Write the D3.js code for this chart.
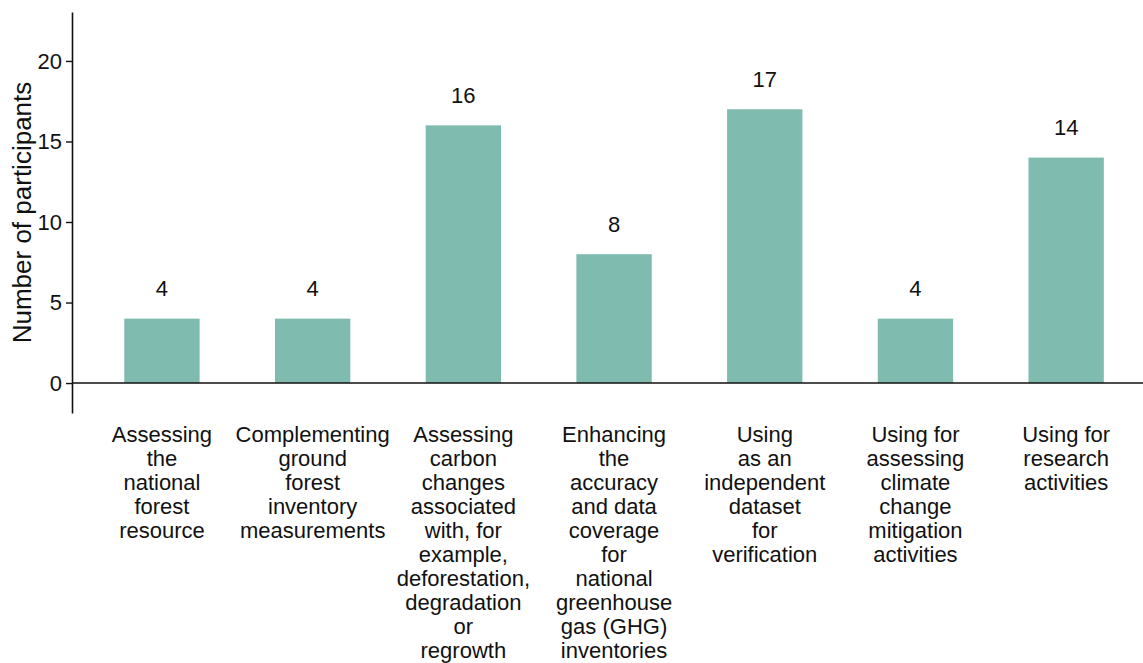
<!DOCTYPE html>
<html>
<head>
<meta charset="utf-8">
<script src="https://cdn.jsdelivr.net/npm/d3@7"></script>
<style>
  html, body { margin: 0; padding: 0; background: #fff; }
  svg { display: block; font-family: "Liberation Sans", Arial, sans-serif; }
</style>
</head>
<body>
<svg id="chart" width="1143" height="663"></svg>
<script>
const categories = [
  "Assessing\nthe\nnational\nforest\nresource",
  "Complementing\nground\nforest\ninventory\nmeasurements",
  "Assessing\ncarbon\nchanges\nassociated\nwith, for\nexample,\ndeforestation,\ndegradation\nor\nregrowth",
  "Enhancing\nthe\naccuracy\nand data\ncoverage\nfor\nnational\ngreenhouse\ngas (GHG)\ninventories",
  "Using\nas an\nindependent\ndataset\nfor\nverification",
  "Using for\nassessing\nclimate\nchange\nmitigation\nactivities",
  "Using for\nresearch\nactivities"
];
const values = [4, 4, 16, 8, 17, 4, 14];
const yTicks = [0, 5, 10, 15, 20];
const yTitle = "Number of participants";

const svg = d3.select("#chart");
const barColor = "#7fbcaf";
const axisX = 72;

const x = d3.scaleBand()
  .domain(d3.range(categories.length))
  .range([86.6, 1141.5])
  .paddingInner(0.5)
  .paddingOuter(0.25);

const y = d3.scaleLinear()
  .domain([-1.86, 23.04])
  .range([413, 12]);

// bars
svg.append("g").selectAll("rect")
  .data(values)
  .join("rect")
  .attr("x", (d, i) => x(i))
  .attr("width", x.bandwidth())
  .attr("y", d => y(d))
  .attr("height", d => y(0) - y(d))
  .attr("fill", barColor);

// value labels
svg.append("g").selectAll("text")
  .data(values)
  .join("text")
  .attr("x", (d, i) => x(i) + x.bandwidth() / 2)
  .attr("y", d => y(d) - 22.5)
  .attr("text-anchor", "middle")
  .attr("font-size", "22px")
  .attr("fill", "#111")
  .text(d => d);

// y axis
const yAxis = d3.axisLeft(y)
  .tickValues(yTicks)
  .tickSize(6)
  .tickSizeOuter(0)
  .tickPadding(4);
const gy = svg.append("g")
  .attr("transform", `translate(${axisX},0)`)
  .call(yAxis);
gy.select(".domain").attr("stroke", "#111").attr("stroke-width", 1.6);
gy.selectAll(".tick line").attr("stroke", "#111").attr("stroke-width", 1.4);
gy.selectAll(".tick text")
  .attr("font-size", "22px")
  .attr("fill", "#111")
  .attr("font-family", "'Liberation Sans', Arial, sans-serif");

// zero baseline
svg.append("line")
  .attr("x1", axisX)
  .attr("x2", 1143)
  .attr("y1", y(0))
  .attr("y2", y(0))
  .attr("stroke", "#111")
  .attr("stroke-width", 1.6);

// y title
svg.append("text")
  .attr("transform", `translate(31,${(y.range()[0] + y.range()[1]) / 2}) rotate(-90)`)
  .attr("text-anchor", "middle")
  .attr("font-size", "26px")
  .attr("fill", "#111")
  .text(yTitle);

// category labels
const lineH = 24.0;
const firstBase = 441.5;
svg.append("g").selectAll("text")
  .data(categories)
  .join("text")
  .attr("text-anchor", "middle")
  .attr("font-size", "22px")
  .attr("fill", "#111")
  .each(function(d, i) {
    const t = d3.select(this);
    d.split("\n").forEach((line, k) => {
      t.append("tspan")
        .attr("x", x(i) + x.bandwidth() / 2)
        .attr("y", firstBase + k * lineH)
        .text(line);
    });
  });
</script>
</body>
</html>
